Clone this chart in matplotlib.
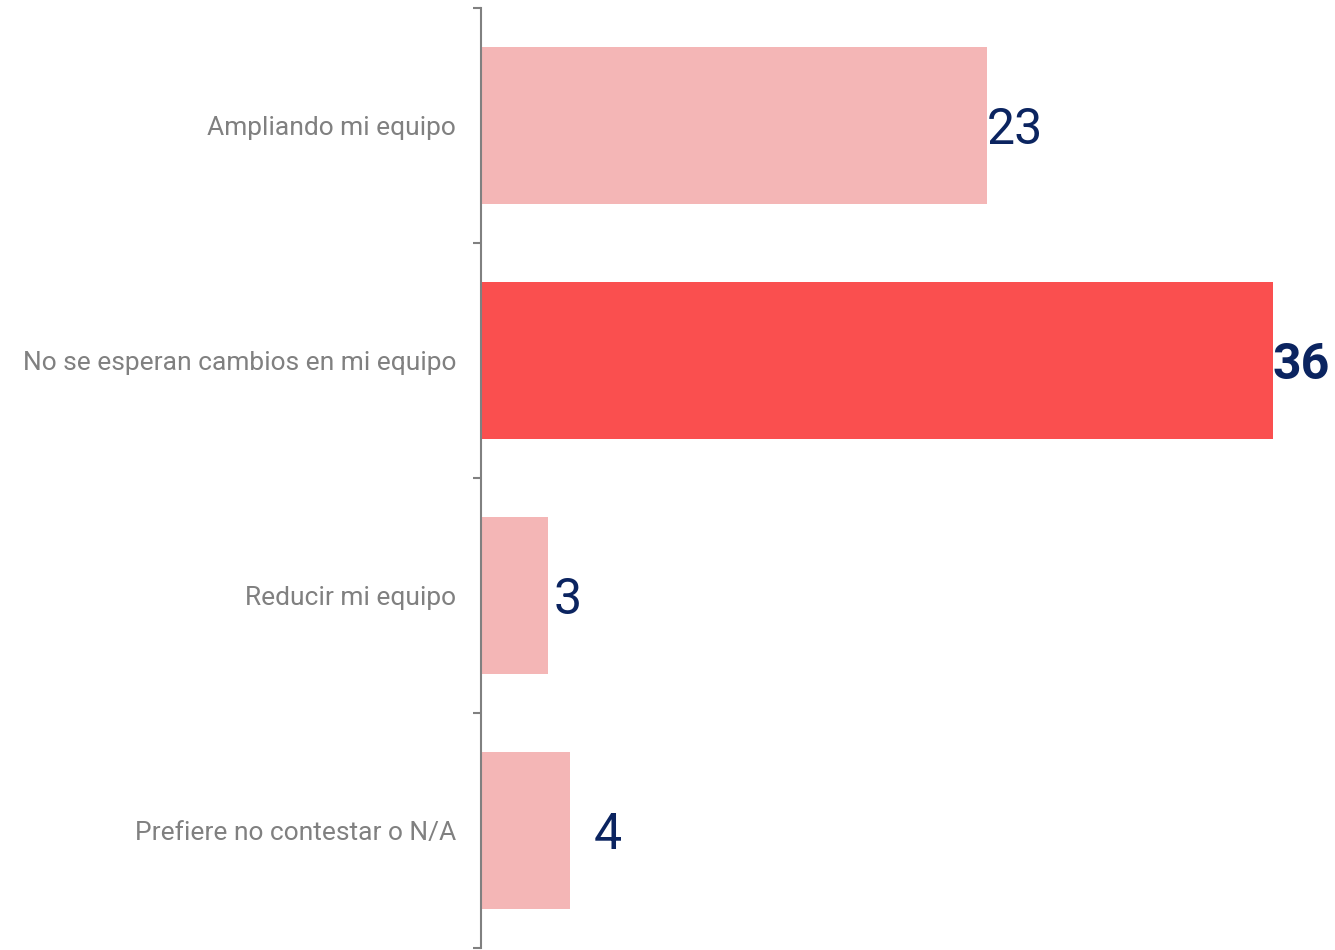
import matplotlib.pyplot as plt
import numpy as np

categorias = [
    "Ampliando mi equipo",
    "No se esperan cambios en mi equipo",
    "Reducir mi equipo",
    "Prefiere no contestar o N/A",
]
valores = [23, 36, 3, 4]
destacado = [False, True, False, False]

plt.rcParams["font.family"] = ["Roboto", "DejaVu Sans"]

color_claro = "#F4B6B6"
color_fuerte = "#FA4F4F"
color_num = "#0B2460"
color_gris = "#808080"

fig = plt.figure(figsize=(13.35, 9.5), dpi=100)
ax = fig.add_axes([481 / 1335, 2 / 950, 1 - 481 / 1335, 940 / 950])

y = np.arange(len(categorias))
colores = [color_fuerte if d else color_claro for d in destacado]
ax.barh(y, valores, height=0.668, color=colores, left=0.05)

# desplazamientos de las etiquetas de valor (en pixeles)
desp = [0, 0, 6, 24]
for i, (v, d) in enumerate(zip(valores, destacado)):
    ax.annotate(
        str(v),
        xy=(v + 0.05, i),
        xytext=(desp[i] * 0.72, -3.5),
        textcoords="offset points",
        ha="left",
        va="center",
        fontsize=36,
        color=color_num,
        fontweight="bold" if d else "normal",
    )

ax.set_xlim(0, 854 / 21.96)
ax.set_ylim(len(categorias) - 0.5, -0.5)

ax.set_yticks(np.arange(-0.5, len(categorias), 1.0))
ax.set_yticklabels([])
ax.tick_params(axis="y", which="major", length=6, width=1.5, color=color_gris)
ax.set_yticks(y, minor=True)
ax.set_yticklabels(categorias, minor=True, fontsize=19, color=color_gris)
ax.tick_params(axis="y", which="minor", length=0, pad=18)

ax.set_xticks([])
for s in ["top", "right", "bottom"]:
    ax.spines[s].set_visible(False)
ax.spines["left"].set_color(color_gris)
ax.spines["left"].set_linewidth(1.5)

fig.savefig("out.png", dpi=100)
